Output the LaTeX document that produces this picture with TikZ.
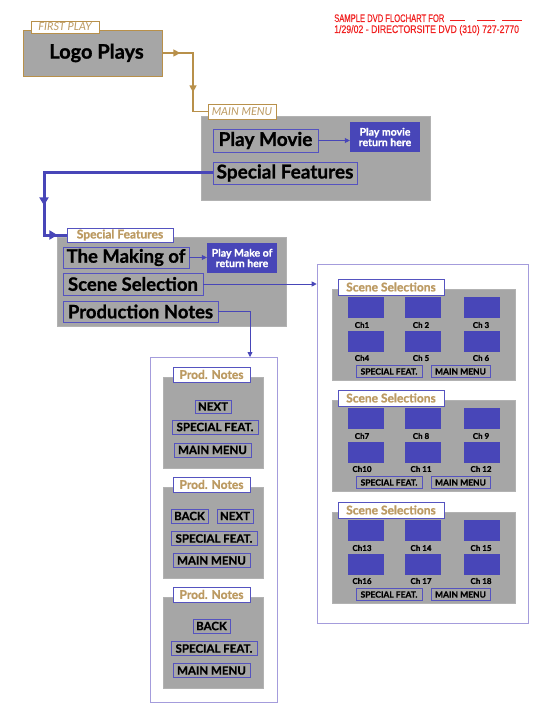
\documentclass[tikz,border=0pt]{standalone}
\usepackage{fontspec}
\setmainfont{Lato}[BoldFeatures={FakeBold=1}]
\newfontfamily\redfont{Liberation Sans}[FakeStretch=0.76,FakeBold=0.4]
\usetikzlibrary{arrows.meta,decorations.markings}
\definecolor{tanc}{HTML}{B8904A}
\definecolor{tantext}{HTML}{BC9A62}
\definecolor{dvdblue}{HTML}{4846B8}
\definecolor{btnblue}{HTML}{5553C0}
\definecolor{framepurple}{HTML}{A49CDC}
\definecolor{panelgray}{HTML}{A6A6A6}
\definecolor{redtxt}{HTML}{F02020}
\tikzset{
  panel/.style={fill=panelgray, draw=gray!60, line width=0.6pt, inner sep=0pt},
  bigbtn/.style={draw=btnblue, line width=0.8pt, inner sep=0pt, font=\fontsize{19}{20}\selectfont\bfseries},
  bluebox/.style={fill=dvdblue, text=white, align=center, inner sep=0pt, font=\fontsize{10.5}{10.5}\selectfont\bfseries},
  tanlbl/.style={fill=white, draw=tanc, line width=0.8pt, text=tantext, inner sep=0pt, font=\fontsize{11}{11}\selectfont\itshape},
  bluelbl/.style={fill=white, draw=btnblue, line width=0.8pt, text=tantext, inner sep=0pt, font=\fontsize{12}{12}\selectfont\bfseries},
  thumb/.style={fill=dvdblue, inner sep=0pt, minimum width=36, minimum height=21},
  chlbl/.style={inner sep=0pt, font=\fontsize{8}{8}\selectfont\bfseries},
  smallbtn/.style={draw=btnblue, line width=0.6pt, inner sep=0pt, minimum height=12, font=\fontsize{8.5}{8.5}\selectfont\bfseries},
  pnbtn/.style={draw=btnblue, line width=0.7pt, inner sep=0pt, minimum height=14, font=\fontsize{11.5}{11.5}\selectfont\bfseries},
  framebox/.style={draw=framepurple, line width=0.6pt, inner sep=0pt},
  tanline/.style={draw=tanc, line width=1.6pt},
  blueline/.style={draw=dvdblue, line width=3pt},
  thinline/.style={draw=dvdblue, line width=0.8pt, -{Triangle[length=5pt,width=5pt]}},
  redtext/.style={text=redtxt, inner sep=0pt, anchor=base west, font=\fontsize{11}{11}\redfont}
}
\begin{document}
\begin{tikzpicture}[x=1pt,y=-1pt]
\useasboundingbox (0,0) rectangle (547,722);

% header
\node[redtext] (hdr1) at (334,22) {\scalebox{0.91}[1]{SAMPLE DVD FLOCHART FOR}};
\node[redtext] (hdr2) at (334,33) {\scalebox{1.045}[1]{1/29/02 - DIRECTORSITE DVD (310) 727-2770}};
\draw[redtxt, line width=1pt] (450,21) -- (465,21) (477,21) -- (495,21) (502,21) -- (522,21);

% first play
\node[panel, draw=tanc, minimum width=139, minimum height=46, font=\fontsize{20}{20}\selectfont\bfseries] (logo) at (92.5,53) {\hspace*{8pt}Logo Plays};
\node[tanlbl, minimum width=68, minimum height=12] (fplbl) at (65,27) {FIRST PLAY};

% main menu
\node[panel, minimum width=229, minimum height=84] (mainbox) at (315.5,158) {};
\node[tanlbl, minimum width=68, minimum height=15] (mmlbl) at (242,111.5) {MAIN MENU};
\node[bigbtn, minimum width=105, minimum height=23] (playmovie) at (265.5,140.5) {Play Movie};
\node[bluebox, minimum width=70, minimum height=30] (pmret) at (385,137) {Play movie\\return here};
\node[bigbtn, minimum width=144, minimum height=22] (specfeat) at (285,173) {Special Features};

% special features
\node[panel, minimum width=229, minimum height=89] (sfbox) at (171.5,281.5) {};
\node[bluelbl, minimum width=106, minimum height=14] (sflbl) at (120,235) {Special Features};
\node[bigbtn, minimum width=126, minimum height=21, font=\fontsize{18.5}{19}\selectfont\bfseries] (making) at (126,257.5) {The Making of};
\node[bluebox, minimum width=70, minimum height=30] (makeret) at (242,258) {Play Make of\\return here};
\node[bigbtn, minimum width=140, minimum height=22, font=\fontsize{18.5}{19}\selectfont\bfseries] (scenesel) at (133,284) {Scene Selection};
\node[bigbtn, minimum width=155, minimum height=21, font=\fontsize{18.5}{19}\selectfont\bfseries] (prodnotes) at (140.5,311.5) {Production Notes};

% frames
\node[framebox, minimum width=211, minimum height=359] (sceneframe) at (422.5,443.5) {};
\node[framebox, minimum width=127, minimum height=345] (prodframe) at (213.5,529.5) {};

% scene selection panels
\foreach \k/\T in {1/289,2/400,3/512}{
  \node[panel, minimum width=183, minimum height=91] (ssg\k) at (423.5,\T+45.5) {};
  \node[bluelbl, minimum width=106, minimum height=16] (ssl\k) at (391,\T-2) {Scene Selections};
  \foreach \r in {0,1}{
    \foreach \c/\cx/\lx in {1/366/362,2/423/421,3/482/481}{
      \pgfmathtruncatemacro\n{(\k-1)*6+\r*3+\c}
      \node[thumb] (th\n) at (\cx,\T+18.5+34*\r) {};
      \node[chlbl] (ch\n) at (\lx,\T+36+33*\r) {\ifnum\c=1 Ch\n\else Ch \n\fi};
    }
  }
  \node[smallbtn, minimum width=66] (sssf\k) at (389,\T+82.5) {SPECIAL FEAT.};
  \node[smallbtn, minimum width=59] (ssmm\k) at (460.5,\T+82.5) {MAIN MENU};
}

% production notes panels
\foreach \k/\T in {1/377,2/487,3/597}{
  \node[panel, minimum width=100, minimum height=91] (png\k) at (213,\T+45.5) {};
  \node[bluelbl, minimum width=77, minimum height=15] (pnl\k) at (211.5,\T-2.5) {Prod. Notes};
}
\node[pnbtn, minimum width=36, minimum height=13] (pnnext1) at (213,406.5) {NEXT};
\node[pnbtn, minimum width=86] (pnsf1) at (215,427) {SPECIAL FEAT.};
\node[pnbtn, minimum width=77] (pnmm1) at (212.5,450) {MAIN MENU};

\node[pnbtn, minimum width=37] (pnback2) at (189.5,516) {BACK};
\node[pnbtn, minimum width=36] (pnnext2) at (235,516) {NEXT};
\node[pnbtn, minimum width=86] (pnsf2) at (214,538.5) {SPECIAL FEAT.};
\node[pnbtn, minimum width=77] (pnmm2) at (211.5,560.5) {MAIN MENU};

\node[pnbtn, minimum width=37] (pnback3) at (211.5,626) {BACK};
\node[pnbtn, minimum width=86] (pnsf3) at (214,648.5) {SPECIAL FEAT.};
\node[pnbtn, minimum width=77] (pnmm3) at (211.5,670.5) {MAIN MENU};

% connectors
\coordinate (tanbend) at (193,111.5);
\draw[tanline, postaction={decorate}, decoration={markings,
   mark=at position 18pt with {\arrow{Triangle[length=7pt,width=7pt]}},
   mark=at position 70pt with {\arrow{Triangle[length=7pt,width=7pt]}}}]
  (logo.east) -| (tanbend) -- (mmlbl.west);

\coordinate (bluebend) at (44,235);
\draw[blueline, postaction={decorate}, decoration={markings,
   mark=at position 201pt with {\arrow{Triangle[length=8pt,width=9pt]}},
   mark=at position 244pt with {\arrow{Triangle[length=8pt,width=9pt]}}}]
  (specfeat.west) -| (bluebend) -- (sflbl.west);

\draw[thinline] (playmovie.east) -- (pmret.west |- playmovie.east);
\draw[thinline] (making.east) -- (makeret.west |- making.east);
\draw[thinline] (scenesel.east) -- (scenesel.east -| sceneframe.west);
\coordinate (pnend) at (250,357);
\draw[thinline] (prodnotes.east) -| (pnend);
\end{tikzpicture}
\end{document}
